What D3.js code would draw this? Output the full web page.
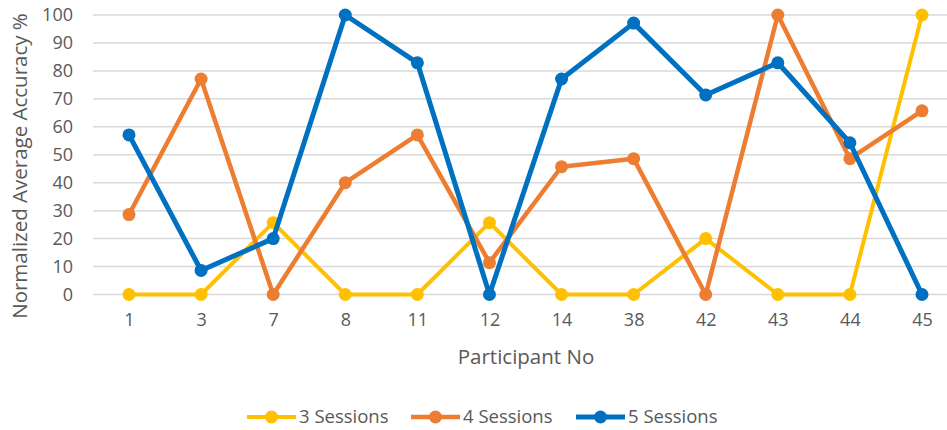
<!DOCTYPE html>
<html>
<head>
<meta charset="utf-8">
<script src="https://cdn.jsdelivr.net/npm/d3@7"></script>
<style>
  html, body { margin: 0; padding: 0; background: #fff; }
  svg { display: block; font-family: "Open Sans", "Noto Sans", sans-serif; }
</style>
</head>
<body>
<svg id="chart" width="947" height="430"></svg>
<script>
// Participants on the x axis
const participants = ["1", "3", "7", "8", "11", "12", "14", "38", "42", "43", "44", "45"];
// Normalized average accuracy (%) per participant
const sessions3 = [0, 0, 25.7, 0, 0, 25.7, 0, 0, 20, 0, 0, 100];
const sessions4 = [28.6, 77.1, 0, 40, 57.1, 11.4, 45.7, 48.6, 0, 100, 48.6, 65.7];
const sessions5 = [57.1, 8.6, 20, 100, 82.9, 0, 77.1, 97.1, 71.4, 82.9, 54.3, 0];
const seriesNames = ["3 Sessions", "4 Sessions", "5 Sessions"];
const yTicks = [0, 10, 20, 30, 40, 50, 60, 70, 80, 90, 100];

const seriesList = [
  { name: seriesNames[0], values: sessions3, color: "#FFC000", width: 4 },
  { name: seriesNames[1], values: sessions4, color: "#ED7D31", width: 4.5 },
  { name: seriesNames[2], values: sessions5, color: "#0070C0", width: 5 }
];

const svg = d3.select("#chart");
const textColor = "#595959";

const x = d3.scalePoint().domain(participants).range([129, 922]);
const y = d3.scaleLinear().domain([0, 100]).range([294.5, 15]);

// Horizontal gridlines
svg.append("g")
  .selectAll("line")
  .data(yTicks)
  .join("line")
  .attr("x1", 93).attr("x2", 947)
  .attr("y1", d => y(d)).attr("y2", d => y(d))
  .attr("stroke", "#D9D9D9").attr("stroke-width", 1.5);

// Y axis labels
const yAxis = d3.axisLeft(y).tickValues(yTicks).tickSize(0).tickPadding(0);
const gy = svg.append("g").attr("transform", "translate(73,0)").call(yAxis);
gy.select(".domain").remove();
gy.selectAll("text")
  .attr("fill", textColor).attr("font-size", 18)
  .attr("font-family", "'Open Sans', sans-serif");

// X axis labels
const xAxis = d3.axisBottom(x).tickSize(0).tickPadding(0);
const gx = svg.append("g").attr("transform", "translate(0,313)").call(xAxis);
gx.select(".domain").remove();
gx.selectAll("text")
  .attr("fill", textColor).attr("font-size", 18)
  .attr("font-family", "'Open Sans', sans-serif");

// Axis titles
svg.append("text")
  .attr("x", 526).attr("y", 364)
  .attr("text-anchor", "middle")
  .attr("fill", textColor).attr("font-size", 20.5)
  .text("Participant No");

svg.append("text")
  .attr("transform", "translate(27,166) rotate(-90)")
  .attr("text-anchor", "middle")
  .attr("fill", textColor).attr("font-size", 20.5)
  .text("Normalized Average Accuracy %");

// Series lines and markers
const line = d3.line()
  .x((d, i) => x(participants[i]))
  .y(d => y(d));

seriesList.forEach(s => {
  const g = svg.append("g");
  g.append("path")
    .datum(s.values)
    .attr("d", line)
    .attr("fill", "none")
    .attr("stroke", s.color)
    .attr("stroke-width", s.width)
    .attr("stroke-linejoin", "round");
  g.selectAll("circle")
    .data(s.values)
    .join("circle")
    .attr("cx", (d, i) => x(participants[i]))
    .attr("cy", d => y(d))
    .attr("r", 6.5)
    .attr("fill", s.color);
});

// Legend
const legendX = [247, 411, 576];
const legend = svg.append("g");
seriesList.forEach((s, i) => {
  const lg = legend.append("g").attr("transform", `translate(${legendX[i]},417)`);
  lg.append("line")
    .attr("x1", 0).attr("x2", 49).attr("y1", 0).attr("y2", 0)
    .attr("stroke", s.color).attr("stroke-width", s.width);
  lg.append("circle").attr("cx", 24.5).attr("cy", 0).attr("r", 6.5).attr("fill", s.color);
  lg.append("text")
    .attr("x", 52).attr("y", 0).attr("dy", "0.35em")
    .attr("fill", textColor).attr("font-size", 18.5)
    .text(s.name);
});
</script>
</body>
</html>
